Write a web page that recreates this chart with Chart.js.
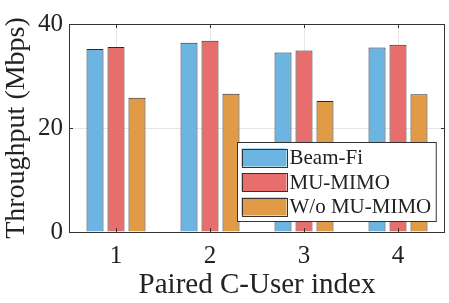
<!DOCTYPE html>
<html><head><meta charset="utf-8">
<script src="https://cdn.jsdelivr.net/npm/chart.js@4.4.1/dist/chart.umd.min.js"></script>
<style>html,body{margin:0;padding:0;background:#fff}#wrap{width:449px;height:303px}</style>
</head><body><div id="wrap"><canvas id="c" width="449" height="303"></canvas></div>
<script>
const categories = ['1', '2', '3', '4'];
const beamFi = [35.2, 36.4, 34.5, 35.5];
const muMimo = [35.6, 36.8, 34.9, 36.0];
const woMuMimo = [25.8, 26.6, 25.2, 26.5];
const yTicks = [0, 20, 40];
const seriesNames = ['Beam-Fi', 'MU-MIMO', 'W/o MU-MIMO'];
const seriesColors = ['#6cb4e2', '#e86e6d', '#e19a46'];

const serif = "'Liberation Serif', 'Times New Roman', serif";

const framePlugin = {
  id: 'frame',
  afterDraw(chart) {
    const ctx = chart.ctx, a = chart.chartArea;
    ctx.save();
    ctx.strokeStyle = '#333';
    ctx.lineWidth = 1;
    ctx.strokeRect(Math.round(a.left) + 0.5, Math.round(a.top) + 0.5, Math.round(a.right - a.left) - 1, Math.round(a.bottom - a.top));
    const xs = chart.scales.x, ys = chart.scales.y;
    ctx.beginPath();
    categories.forEach((c, i) => {
      const px = Math.round(xs.getPixelForValue(i)) + 0.5;
      ctx.moveTo(px, a.top); ctx.lineTo(px, a.top + 4);
      ctx.moveTo(px, a.bottom); ctx.lineTo(px, a.bottom - 4);
    });
    yTicks.forEach(v => {
      const py = Math.round(ys.getPixelForValue(v)) + 0.5;
      ctx.moveTo(a.left, py); ctx.lineTo(a.left + 4, py);
      ctx.moveTo(a.right, py); ctx.lineTo(a.right - 4, py);
    });
    ctx.stroke();
    ctx.font = '21px ' + serif;
    let maxW = 0;
    chart.data.datasets.forEach(d => { maxW = Math.max(maxW, ctx.measureText(d.label).width); });
    const sw = 45, sh = 18, rowH = 24.5, padL = 4, gap = 3, padR = 5;
    const boxW = padL + sw + gap + maxW + padR;
    const boxH = 79;
    const bx = Math.round(a.right - 9 - boxW) + 0.5;
    const by = Math.round(a.bottom - 11 - boxH) + 0.5;
    ctx.fillStyle = '#fff';
    ctx.fillRect(bx, by, boxW, boxH);
    ctx.strokeStyle = '#333';
    ctx.strokeRect(bx, by, boxW, boxH);
    chart.data.datasets.forEach((d, i) => {
      const cy = by + 15 + i * rowH;
      ctx.fillStyle = d.backgroundColor;
      ctx.fillRect(bx + padL, cy - sh / 2, sw, sh);
      ctx.strokeStyle = '#333';
      ctx.strokeRect(Math.round(bx + padL) + 0.5, Math.round(cy - sh / 2) + 0.5, sw, sh);
      ctx.fillStyle = '#222';
      ctx.textBaseline = 'middle';
      ctx.textAlign = 'left';
      ctx.fillText(d.label, bx + padL + sw + gap, cy + 1);
    });
    ctx.restore();
  }
};

new Chart(document.getElementById('c'), {
  type: 'bar',
  data: {
    labels: categories,
    datasets: [beamFi, muMimo, woMuMimo].map((vals, i) => ({
      label: seriesNames[i],
      data: vals,
      backgroundColor: seriesColors[i],
      borderColor: '#2a2a2a',
      borderWidth: 1,
      categoryPercentage: 0.67,
      barPercentage: 0.81
    }))
  },
  options: {
    responsive: false,
    animation: false,
    devicePixelRatio: 1,
    layout: { padding: { top: 24, right: 4, left: 0, bottom: 0 } },
    plugins: { legend: { display: false }, tooltip: { enabled: false } },
    scales: {
      x: {
        offset: true,
        grid: { offset: false, color: '#e6e6e6', drawTicks: false },
        border: { display: false },
        ticks: { color: '#222', font: { family: serif, size: 25 }, padding: 9 },
        title: { display: true, text: 'Paired C-User index', color: '#222', font: { family: serif, size: 29 }, padding: { top: -2, bottom: 0 } },
        afterFit(s) { s.height = 71; }
      },
      y: {
        min: 0, max: 40,
        afterBuildTicks(s) { s.ticks = yTicks.map(v => ({ value: v })); },
        grid: { color: '#e6e6e6', drawTicks: false },
        border: { display: false },
        ticks: { color: '#222', font: { family: serif, size: 25 }, padding: 6 },
        title: { display: true, text: 'Throughput (Mbps)', color: '#222', font: { family: serif, size: 28 }, padding: { top: 0, bottom: 0 } },
        afterFit(s) { s.width = 69; }
      }
    }
  },
  plugins: [framePlugin]
});
</script>
</body></html>
